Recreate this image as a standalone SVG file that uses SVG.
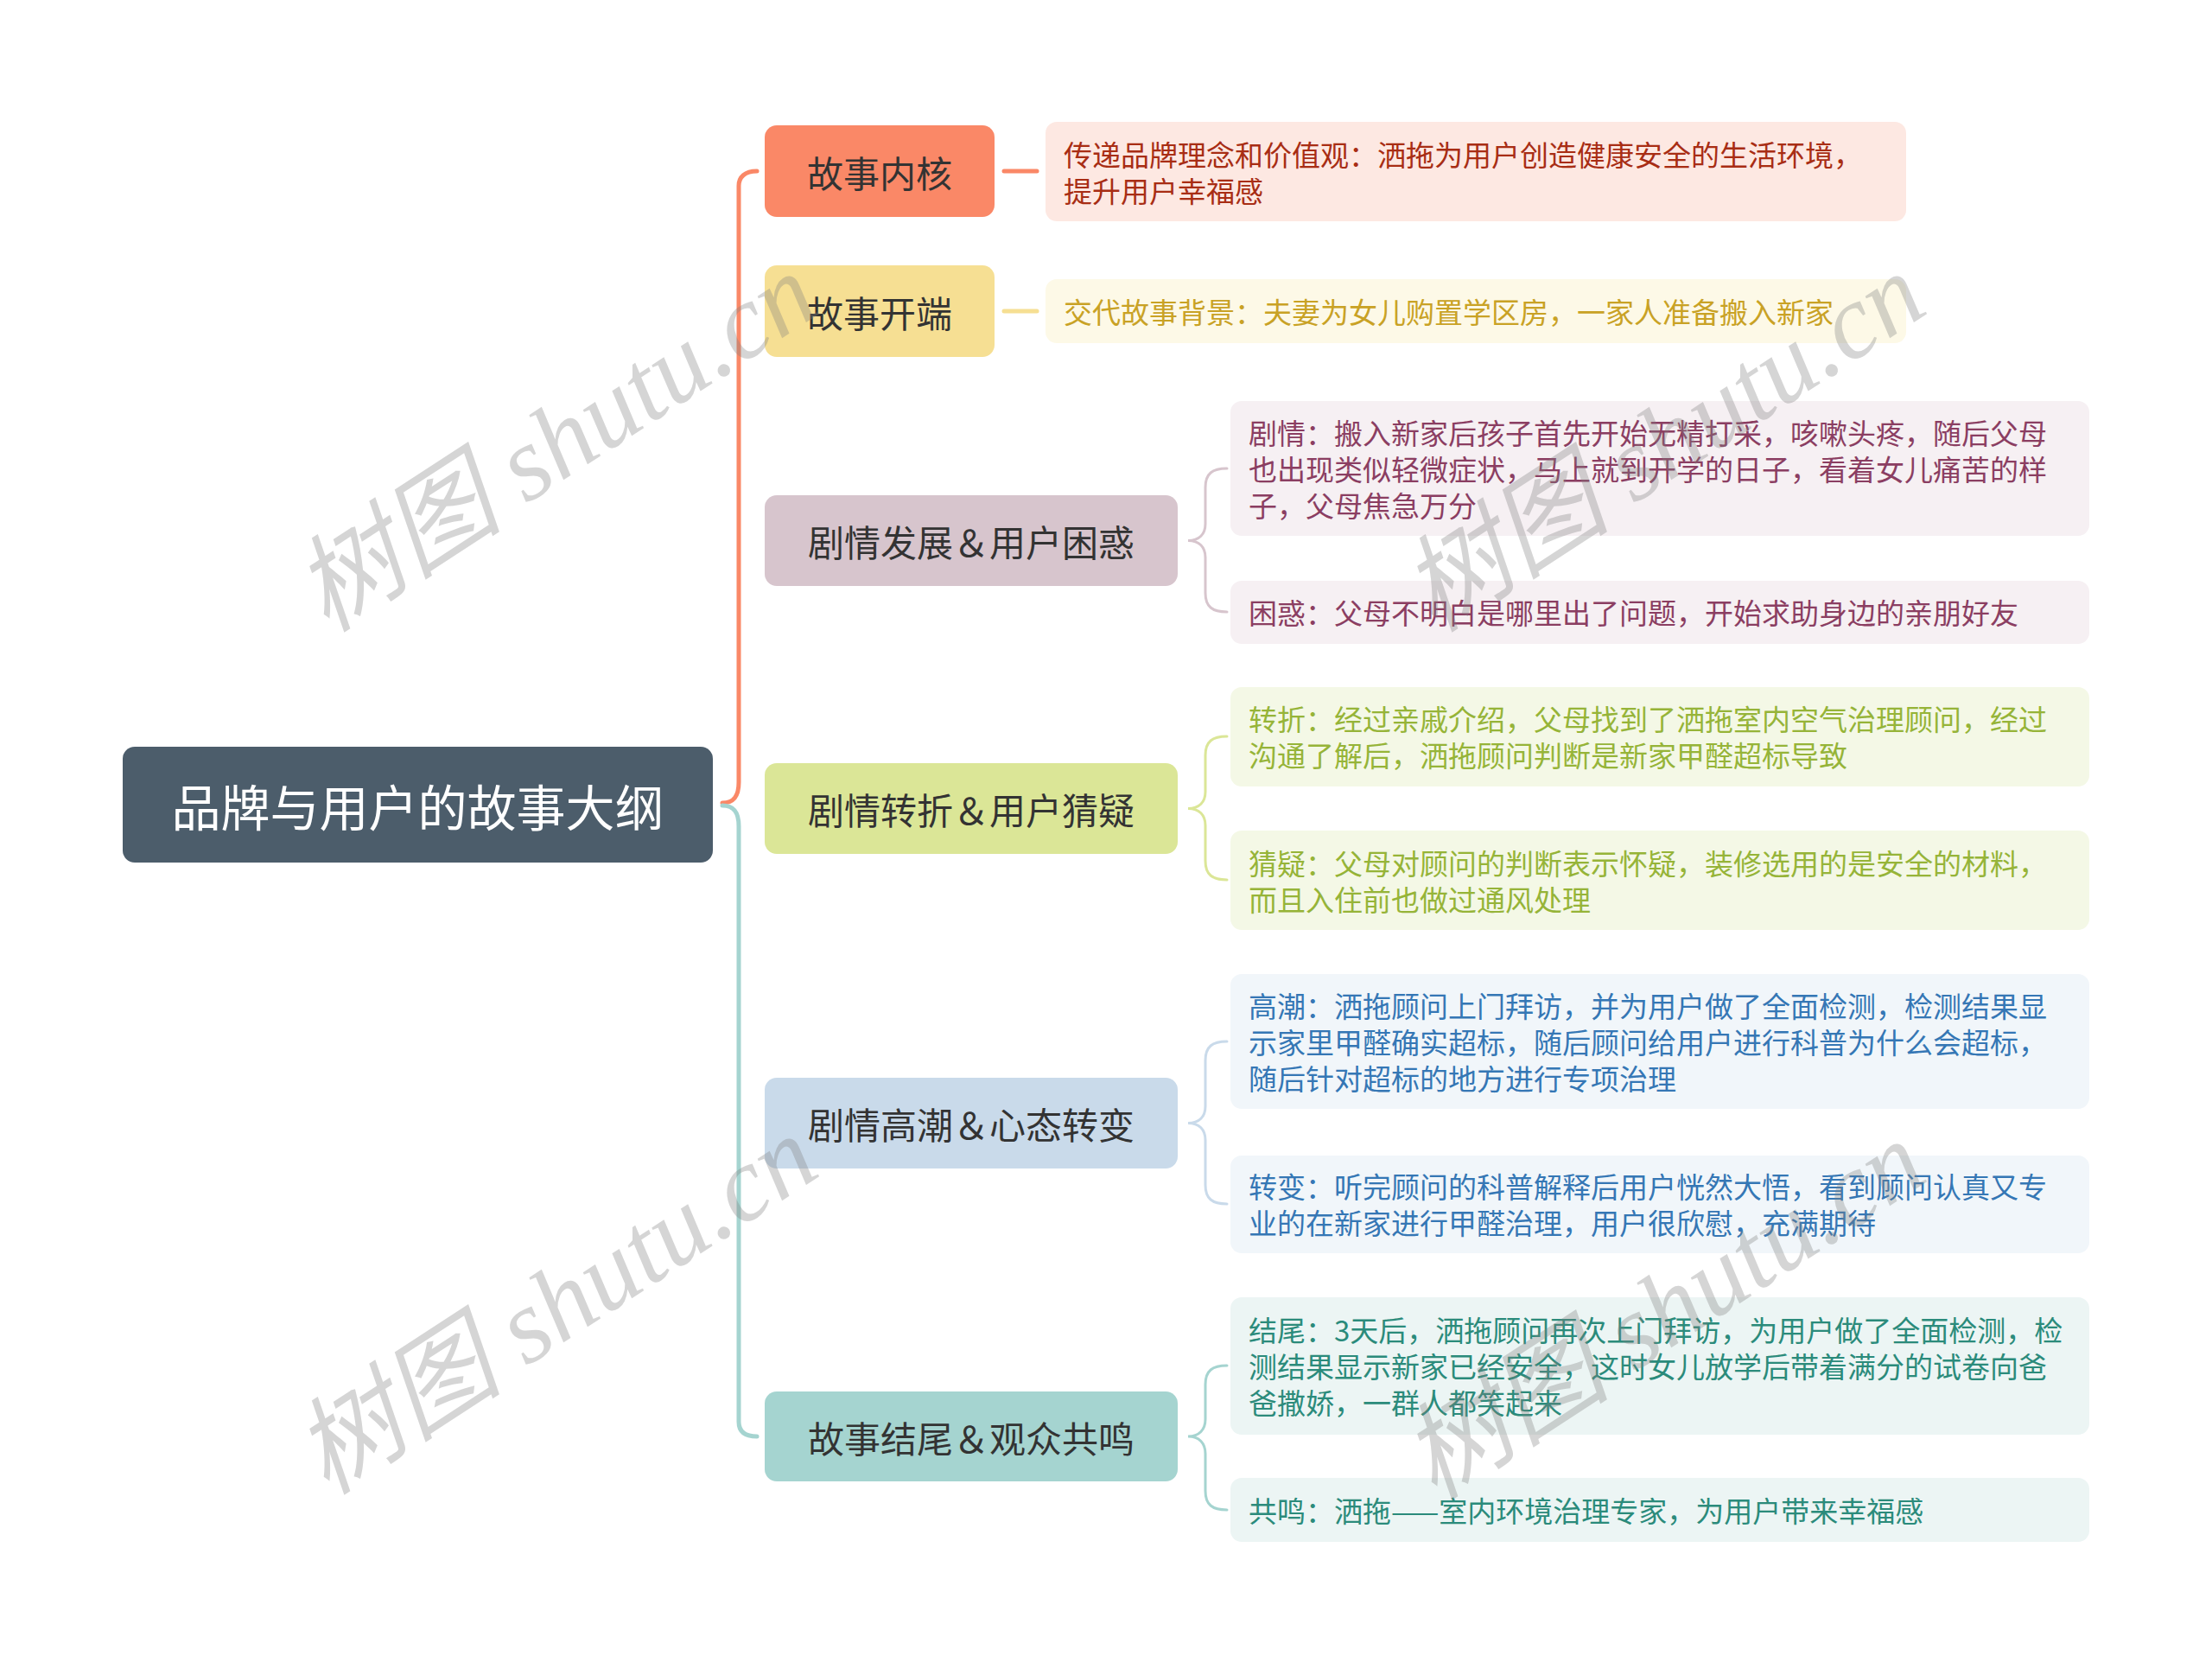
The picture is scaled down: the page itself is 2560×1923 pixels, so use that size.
<svg xmlns="http://www.w3.org/2000/svg" width="2560" height="1923" viewBox="0 0 2560 1923">
<style>
text{font-family:"Noto Sans CJK SC","Noto Sans",sans-serif;dominant-baseline:central}
.root{font-size:57px;fill:#ffffff;text-anchor:middle}
.p{font-size:42px;fill:#333333;text-anchor:middle}
.l{font-size:33px}
.conn{fill:none;stroke-linecap:round}
.wm{font-family:"Liberation Serif","Noto Sans CJK SC",serif;font-style:italic;font-size:122px;fill:#808080;fill-opacity:0.33;text-anchor:middle}
</style>
<rect width="2560" height="1923" fill="#ffffff"/>
<g id="connectors">
<path class="conn" d="M836,929 C850,929 855,920 855,905 L855,215 C855,205 862,198 876,198" stroke="#fa8867" stroke-width="5"/>
<path class="conn" d="M836,932 C850,932 855,941 855,956 L855,1645 C855,1656 862,1662 876,1662" stroke="#a5d4d0" stroke-width="5"/>
<path class="conn" d="M1162,198 L1200,198" stroke="#fa8867" stroke-width="5"/>
<path class="conn" d="M1162,360 L1200,360" stroke="#f6df93" stroke-width="5"/>
<path class="conn" d="M1420,542 C1403,542 1395,548 1395,564 L1395,606 C1395,618 1388,625.5 1375,625.5 C1388,625.5 1395,633 1395,645 L1395,686 C1395,702 1403,708 1420,708" stroke="#d7c5cd" stroke-width="3"/>
<path class="conn" d="M1420,852 C1403,852 1395,858 1395,874 L1395,916 C1395,928 1388,935.5 1375,935.5 C1388,935.5 1395,943 1395,955 L1395,996 C1395,1012 1403,1018 1420,1018" stroke="#dbe697" stroke-width="3"/>
<path class="conn" d="M1420,1205 C1403,1205 1395,1211 1395,1227 L1395,1280 C1395,1292 1388,1299.5 1375,1299.5 C1388,1299.5 1395,1307 1395,1319 L1395,1371 C1395,1387 1403,1393 1420,1393" stroke="#c9daea" stroke-width="3"/>
<path class="conn" d="M1420,1580 C1403,1580 1395,1586 1395,1602 L1395,1642 C1395,1654 1388,1662 1375,1662 C1388,1662 1395,1670 1395,1682 L1395,1725 C1395,1741 1403,1747 1420,1747" stroke="#a5d4d0" stroke-width="3"/>
</g>
<g id="root">
<rect x="142" y="864" width="683" height="134" rx="14" fill="#4c5d6b"/>
<text class="root" x="483.5" y="931">品牌与用户的故事大纲</text>
</g>
<g id="n1">
<rect x="885" y="145" width="266" height="106" rx="14" fill="#fa8867"/>
<text class="p" x="1018" y="198">故事内核</text>
</g>
<g id="n1a">
<rect x="1210" y="141" width="996" height="115" rx="13" fill="#fde8e2"/>
<text class="l" fill="#a82d14" x="1231" y="178">传递品牌理念和价值观：洒拖为用户创造健康安全的生活环境，</text>
<text class="l" fill="#a82d14" x="1231" y="220">提升用户幸福感</text>
</g>
<g id="n2">
<rect x="885" y="307" width="266" height="106" rx="14" fill="#f6df93"/>
<text class="p" x="1018" y="360">故事开端</text>
</g>
<g id="n2a">
<rect x="1210" y="323" width="996" height="74" rx="13" fill="#fdf9e7"/>
<text class="l" fill="#c9a225" x="1231" y="360">交代故事背景：夫妻为女儿购置学区房，一家人准备搬入新家</text>
</g>
<g id="n3">
<rect x="885" y="573" width="478" height="105" rx="14" fill="#d7c5cd"/>
<text class="p" x="1124" y="625.5">剧情发展＆用户困惑</text>
</g>
<g id="n3a">
<rect x="1424" y="464" width="994" height="156" rx="13" fill="#f6f0f3"/>
<text class="l" fill="#8b3e62" x="1445" y="500">剧情：搬入新家后孩子首先开始无精打采，咳嗽头疼，随后父母</text>
<text class="l" fill="#8b3e62" x="1445" y="542">也出现类似轻微症状，马上就到开学的日子，看着女儿痛苦的样</text>
<text class="l" fill="#8b3e62" x="1445" y="584">子，父母焦急万分</text>
</g>
<g id="n3b">
<rect x="1424" y="672" width="994" height="73" rx="13" fill="#f6f0f3"/>
<text class="l" fill="#8b3e62" x="1445" y="708">困惑：父母不明白是哪里出了问题，开始求助身边的亲朋好友</text>
</g>
<g id="n4">
<rect x="885" y="883" width="478" height="105" rx="14" fill="#dbe697"/>
<text class="p" x="1124" y="935.5">剧情转折＆用户猜疑</text>
</g>
<g id="n4a">
<rect x="1424" y="795" width="994" height="115" rx="13" fill="#f4f8e6"/>
<text class="l" fill="#96b438" x="1445" y="831">转折：经过亲戚介绍，父母找到了洒拖室内空气治理顾问，经过</text>
<text class="l" fill="#96b438" x="1445" y="873">沟通了解后，洒拖顾问判断是新家甲醛超标导致</text>
</g>
<g id="n4b">
<rect x="1424" y="961" width="994" height="115" rx="13" fill="#f4f8e6"/>
<text class="l" fill="#96b438" x="1445" y="998">猜疑：父母对顾问的判断表示怀疑，装修选用的是安全的材料，</text>
<text class="l" fill="#96b438" x="1445" y="1040">而且入住前也做过通风处理</text>
</g>
<g id="n5">
<rect x="885" y="1247" width="478" height="105" rx="14" fill="#c9daea"/>
<text class="p" x="1124" y="1299.5">剧情高潮＆心态转变</text>
</g>
<g id="n5a">
<rect x="1424" y="1127" width="994" height="156" rx="13" fill="#f1f6fa"/>
<text class="l" fill="#3577b5" x="1445" y="1163">高潮：洒拖顾问上门拜访，并为用户做了全面检测，检测结果显</text>
<text class="l" fill="#3577b5" x="1445" y="1205">示家里甲醛确实超标，随后顾问给用户进行科普为什么会超标，</text>
<text class="l" fill="#3577b5" x="1445" y="1247">随后针对超标的地方进行专项治理</text>
</g>
<g id="n5b">
<rect x="1424" y="1337" width="994" height="113" rx="13" fill="#f1f6fa"/>
<text class="l" fill="#3577b5" x="1445" y="1372">转变：听完顾问的科普解释后用户恍然大悟，看到顾问认真又专</text>
<text class="l" fill="#3577b5" x="1445" y="1414">业的在新家进行甲醛治理，用户很欣慰，充满期待</text>
</g>
<g id="n6">
<rect x="885" y="1610" width="478" height="104" rx="14" fill="#a5d4d0"/>
<text class="p" x="1124" y="1662">故事结尾＆观众共鸣</text>
</g>
<g id="n6a">
<rect x="1424" y="1501" width="994" height="159" rx="13" fill="#ecf5f4"/>
<text class="l" fill="#2b8b7b" x="1445" y="1538">结尾：3天后，洒拖顾问再次上门拜访，为用户做了全面检测，检</text>
<text class="l" fill="#2b8b7b" x="1445" y="1580">测结果显示新家已经安全，这时女儿放学后带着满分的试卷向爸</text>
<text class="l" fill="#2b8b7b" x="1445" y="1622">爸撒娇，一群人都笑起来</text>
</g>
<g id="n6b">
<rect x="1424" y="1710" width="994" height="74" rx="13" fill="#ecf5f4"/>
<text class="l" fill="#2b8b7b" x="1445" y="1747">共鸣：洒拖——室内环境治理专家，为用户带来幸福感</text>
</g>
<g id="watermarks">
<text class="wm" transform="translate(643,512) rotate(-33)">树图 shutu.cn</text>
<text class="wm" transform="translate(643,1510) rotate(-33)">树图 shutu.cn</text>
<text class="wm" transform="translate(1925,512) rotate(-33)">树图 shutu.cn</text>
<text class="wm" transform="translate(1925,1516) rotate(-33)">树图 shutu.cn</text>
</g>
</svg>
